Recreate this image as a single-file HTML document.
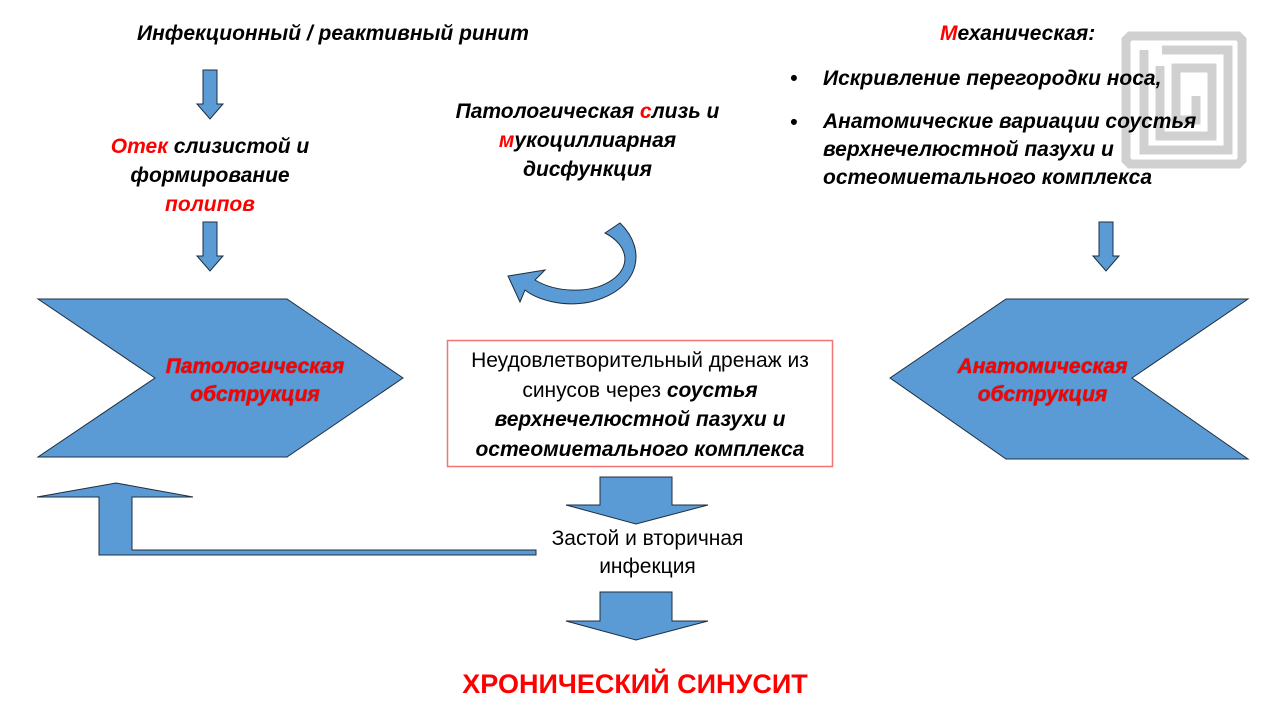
<!DOCTYPE html>
<html><head><meta charset="utf-8"><style>
body{margin:0;width:1280px;height:720px;background:#fff;overflow:hidden;position:relative;font-family:"Liberation Sans","DejaVu Sans",sans-serif}
.t{position:absolute;font-size:21px;line-height:29px;color:#000;white-space:nowrap}
.bi{font-weight:bold;font-style:italic}
.r{color:#f00}
.c{text-align:center}
</style></head><body>
<svg width="1280" height="720" style="position:absolute;left:0;top:0">
<g fill="#5b9bd5" stroke="#1f2d3d" stroke-width="1">
<polygon points="38,299 287,299 403,378 287,457 38,457 155,378"/>
<polygon points="1248,299 1006,299 890,378 1006,459 1248,459 1132,378"/>
<polygon points="203,70 217,70 217,104 223,104 210,119 197,104 203,104"/>
<polygon points="203,222 217,222 217,256 223,256 210,271 197,256 203,256"/>
<polygon points="1099,222 1113,222 1113,256 1119,256 1106,271 1093,256 1099,256"/>
<polygon points="600,477 672,477 672,505 708,505 636,524 566,505 600,505"/>
<polygon points="600,592 672,592 672,621 708,621 636,640 566,621 600,621"/>
<polygon points="37,497 116,483 193,497 132,497 132,550 536,550 536,555 99,555 99,497"/>
<path d="M605,233 L620,223 C648,250 640,290 590,302 C560,308 535,298 525,290 L520,302 L508,276 L545,270 L535,280 C555,292 590,295 612,280 C632,266 628,245 605,233 Z"/>
</g>
<rect x="447.5" y="340.5" width="385" height="126" fill="#fff" stroke="#f07575" stroke-width="1.5"/>
<g fill="none" stroke="#d0d0d0" stroke-width="9">
<path d="M1130,36 L1238,36 L1242,40 L1242,160 L1238,164 L1130,164 L1126,160 L1126,40 Z"/>
<path d="M1144,50 L1144,150 L1228,150 L1228,50 L1162,50"/>
<path d="M1160,66 L1160,136 L1212,136 L1212,68 L1176,68 L1176,120 L1196,120 L1196,96"/>
</g>
</svg>
<div class="t bi" style="left:137px;top:19px">Инфекционный / реактивный ринит</div>
<div class="t bi c" style="left:80px;top:132px;width:260px">
<span class="r">Отек</span> слизистой и<br>формирование<br><span class="r">полипов</span></div>
<div class="t bi c" style="left:430px;top:97px;width:315px">Патологическая <span class="r">с</span>лизь и<br><span class="r">м</span>укоциллиарная<br>дисфункция</div>
<div class="t bi" style="left:940px;top:19px"><span class="r">М</span>еханическая:</div>
<div class="t bi" style="left:790px;top:64px">•</div>
<div class="t bi" style="left:823px;top:64px">Искривление перегородки носа,</div>
<div class="t bi" style="left:790px;top:108px">•</div>
<div class="t bi" style="left:823px;top:108px;line-height:28px">Анатомические вариации соустья<br>верхнечелюстной пазухи и<br>остеомиетального комплекса</div>
<div class="t bi r c" style="left:140px;top:353px;width:230px;line-height:28px;text-shadow:0 0 1px #600">Патологическая<br>обструкция</div>
<div class="t bi r c" style="left:930px;top:353px;width:225px;line-height:28px;text-shadow:0 0 1px #600">Анатомическая<br>обструкция</div>
<div class="t c" style="left:440px;top:346px;width:400px;line-height:29.5px">Неудовлетворительный дренаж из<br>синусов через <span class="bi">соустья<br>верхнечелюстной пазухи и<br>остеомиетального комплекса</span></div>
<div class="t c" style="left:520px;top:525px;width:255px;line-height:28px">Застой и вторичная<br>инфекция</div>
<div class="t r c" style="left:400px;top:667px;width:470px;font-size:27px;font-weight:bold;line-height:34px">ХРОНИЧЕСКИЙ СИНУСИТ</div>
</body></html>
